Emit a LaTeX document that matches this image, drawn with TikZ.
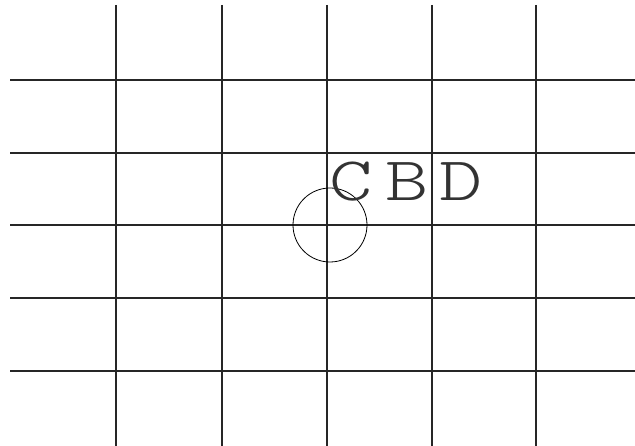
\documentclass[tikz,border=0pt]{standalone}
\usepackage{graphicx}

\begin{document}
\begin{tikzpicture}[x=1pt,y=-1pt]
  \def\W{635}
  \def\H{446}
  \useasboundingbox (0,0) rectangle (\W,\H);

  % street grid
  \foreach \x in {116,222,327,432,536} {
    \draw[line width=1.8pt,black!85] (\x,5) -- (\x,\H);
  }
  \foreach \y in {80,153,225,298,371} {
    \draw[line width=1.5pt,black!85] (10,\y) -- (\W,\y);
  }

  % centre marker and label
  \node[draw,circle,line width=0.8pt,minimum size=74pt,inner sep=0pt] (ring) at (330,225) {};
  \node[anchor=base west,inner sep=0pt,text=black!80,
    font=\fontsize{62}{62}\fontfamily{lmtt}\fontseries{l}\selectfont] (cbd) at (329,201)
    {\scalebox{1.33}[1]{C\hspace{10pt}B\hspace{8pt}D}};
\end{tikzpicture}
\end{document}
